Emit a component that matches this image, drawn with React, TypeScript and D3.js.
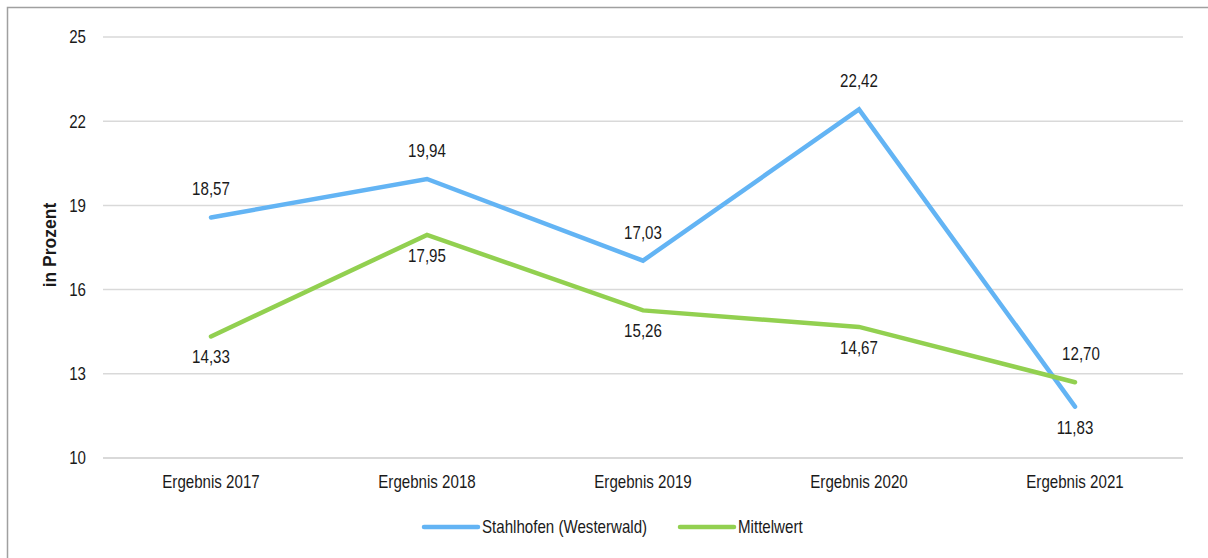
import React from 'react';
import * as d3 from 'd3';

const categories = ['Ergebnis 2017', 'Ergebnis 2018', 'Ergebnis 2019', 'Ergebnis 2020', 'Ergebnis 2021'];
const stahlhofen = [18.57, 19.94, 17.03, 22.42, 11.83];
const mittelwert = [14.33, 17.95, 15.26, 14.67, 12.7];
const yTicks = [10, 13, 16, 19, 22, 25];
const seriesNames = ['Stahlhofen (Westerwald)', 'Mittelwert'];
const seriesColors = ['#63b4f4', '#92d050'];

const W = 1208;
const H = 558;
const font = '"Liberation Sans", Arial, sans-serif';

// the source uses a narrow face, so squeeze regular text horizontally
function NText(props: { x: number; y: number; anchor?: string; dy?: string; children: React.ReactNode }) {
  const { x, y, anchor, dy, children } = props;
  return (
    <text
      transform={`translate(${x},${y}) scale(0.84,1)`}
      textAnchor={anchor || 'start'}
      dy={dy}
      fontSize={18}
      fill="#1a1a1a"
    >
      {children}
    </text>
  );
}

function App() {
  const x = d3.scaleBand().domain(categories).range([103, 1183]);
  const y = d3.scaleLinear().domain([10, 25]).range([458, 37]);
  const fmt = (v: number) => v.toFixed(2).replace('.', ',');
  const cx = (i: number) => x(categories[i])! + x.bandwidth() / 2;

  const line = d3
    .line<number>()
    .x((_, i) => cx(i))
    .y((d) => y(d));

  const all = [stahlhofen, mittelwert];

  return (
    <svg width={W} height={H} style={{ position: 'fixed', left: 0, top: 0 }} fontFamily={font}>
      <rect x={0} y={0} width={W} height={H} fill="#fff" />
      <rect x={7.5} y={7.5} width={W + 20} height={H + 20} fill="none" stroke="#a0a0a0" strokeWidth={1.5} />

      {/* gridlines */}
      {yTicks.map((t) => (
        <g key={t}>
          <line x1={103} x2={1183} y1={y(t)} y2={y(t)} stroke="#d9d9d9" strokeWidth={t === 10 ? 2 : 1.5} />
          <NText x={86} y={y(t)} dy="0.35em" anchor="end">
            {t}
          </NText>
        </g>
      ))}

      {/* category labels */}
      {categories.map((c, i) => (
        <NText key={c} x={cx(i)} y={488} anchor="middle">
          {c}
        </NText>
      ))}

      <text
        transform="translate(56,245) rotate(-90)"
        textAnchor="middle"
        fontSize={17.5}
        fontWeight="bold"
        fill="#1a1a1a"
      >
        in Prozent
      </text>

      {/* lines */}
      {all.map((s, k) => (
        <path
          key={k}
          d={line(s)!}
          fill="none"
          stroke={seriesColors[k]}
          strokeWidth={4.5}
          strokeLinecap="round"
          strokeLinejoin="miter"
        />
      ))}

      {/* value labels: higher series above, lower below */}
      {all.map((s, k) =>
        s.map((v, i) => {
          const above = v >= all[1 - k][i];
          return (
            <NText
              key={`${k}-${i}`}
              x={cx(i) + (above && k === 1 ? 6 : 0)}
              y={y(v) + (above ? -22 : 27)}
              anchor="middle"
            >
              {fmt(v)}
            </NText>
          );
        })
      )}

      {/* legend */}
      <g>
        <line x1={424} x2={478} y1={527} y2={527} stroke={seriesColors[0]} strokeWidth={4.5} strokeLinecap="round" />
        <NText x={482} y={527} dy="0.35em">
          {seriesNames[0]}
        </NText>
        <line x1={680} x2={734} y1={527} y2={527} stroke={seriesColors[1]} strokeWidth={4.5} strokeLinecap="round" />
        <NText x={738} y={527} dy="0.35em">
          {seriesNames[1]}
        </NText>
      </g>
    </svg>
  );
}

export default App;
